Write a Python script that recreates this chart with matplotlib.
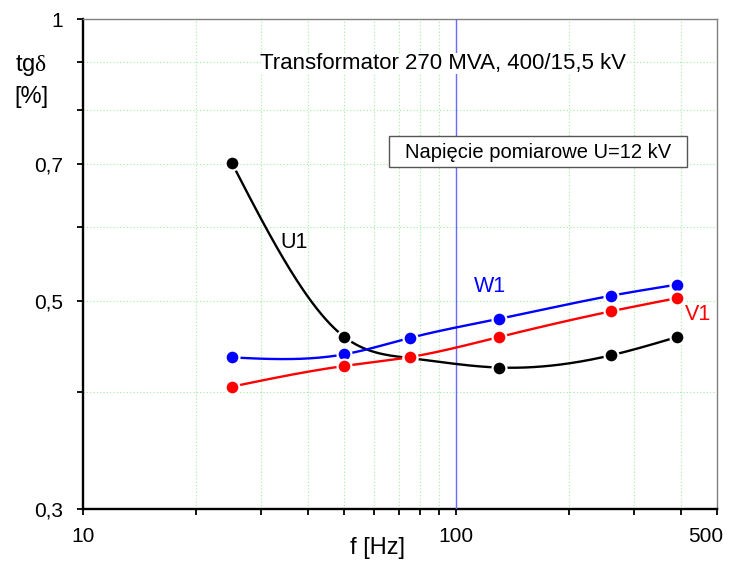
import numpy as np
import matplotlib
matplotlib.use("Agg")
import matplotlib.pyplot as plt
from matplotlib.ticker import FixedLocator, NullFormatter
from matplotlib.patches import Rectangle
from matplotlib.transforms import ScaledTranslation

plt.rcParams['font.family'] = ['Liberation Sans', 'DejaVu Sans']
plt.rcParams['mathtext.fontset'] = 'custom'
plt.rcParams['mathtext.rm'] = 'Liberation Serif'

# ---- data ----
freq = [25, 50, 75, 130, 260, 390]
u1 = [0.703, 0.4585, 0.435, 0.425, 0.438, 0.458]
w1 = [0.4357, 0.439, 0.457, 0.479, 0.507, 0.521]
v1 = [0.4055, 0.4266, 0.436, 0.458, 0.488, 0.504]

y_major = [0.3, 0.5, 0.7, 1.0]
y_major_labels = ['0,3', '0,5', '0,7', '1']
y_minor = [0.4, 0.6, 0.8, 0.9]
x_major = [10, 100, 500]
x_major_labels = ['10', '100', '500']
x_minor = [20, 30, 40, 50, 60, 70, 80, 90, 200, 300, 400]


def natural_spline(x, y, n=200):
    """Natural cubic spline through points (used only for drawing the smooth curve)."""
    x = np.asarray(x, float); y = np.asarray(y, float)
    k = len(x)
    h = np.diff(x)
    A = np.zeros((k, k)); b = np.zeros(k)
    A[0, 0] = A[-1, -1] = 1
    for i in range(1, k - 1):
        A[i, i - 1] = h[i - 1]
        A[i, i] = 2 * (h[i - 1] + h[i])
        A[i, i + 1] = h[i]
        b[i] = 3 * ((y[i + 1] - y[i]) / h[i] - (y[i] - y[i - 1]) / h[i - 1])
    c = np.linalg.solve(A, b)
    xs = np.linspace(x[0], x[-1], n)
    ys = np.empty_like(xs)
    for j, xv in enumerate(xs):
        i = min(np.searchsorted(x, xv, side='right') - 1, k - 2)
        dx = xv - x[i]
        bi = (y[i + 1] - y[i]) / h[i] - h[i] * (2 * c[i] + c[i + 1]) / 3
        di = (c[i + 1] - c[i]) / (3 * h[i])
        ys[j] = y[i] + bi * dx + c[i] * dx ** 2 + di * dx ** 3
    return xs, ys


W, H = 729, 568
fig = plt.figure(figsize=(W / 100, H / 100), dpi=100)
ax = fig.add_axes([83.3 / W, 1 - 509.3 / H, 633.7 / W, 490 / H])
ax.set_xscale('log')
ax.set_yscale('log')
ax.set_xlim(10, 500)
ax.set_ylim(0.3, 1.0)

ax.xaxis.set_major_locator(FixedLocator(x_major))
ax.xaxis.set_minor_locator(FixedLocator(x_minor))
ax.set_xticklabels(x_major_labels)
ax.xaxis.set_minor_formatter(NullFormatter())
ax.yaxis.set_major_locator(FixedLocator(y_major))
ax.yaxis.set_minor_locator(FixedLocator(y_minor))
ax.set_yticklabels(y_major_labels)
ax.yaxis.set_minor_formatter(NullFormatter())

ax.tick_params(which='both', direction='out', length=4.5, width=1.3, color='black',
               labelsize=15, top=False, right=False)
ax.tick_params(axis='x', pad=8)
ax.tick_params(axis='y', pad=10)

# shift the "500" label left so it stays inside the figure (as in the reference)
lbl500 = ax.get_xticklabels()[2]
lbl500.set_transform(lbl500.get_transform() + ScaledTranslation(-0.11, 0, fig.dpi_scale_trans))

ax.grid(True, which='both', color='#9cf09c', linestyle=(0, (1, 2)), linewidth=0.8)
ax.set_axisbelow(True)

for side in ['left', 'bottom']:
    ax.spines[side].set_linewidth(1.7)
    ax.spines[side].set_color('black')
for side in ['top', 'right']:
    ax.spines[side].set_linewidth(1.0)
    ax.spines[side].set_color('#808080')

series = [(u1, 'black'), (w1, '#0000ff'), (v1, '#ff0000')]
lx = np.log10(freq)
for vals, col in series:
    xs, ys = natural_spline(lx, np.log10(vals))
    ax.plot(10 ** xs, 10 ** ys, color=col, linewidth=1.7, zorder=5)
    ax.plot(freq, vals, 'o', color=col, markersize=10, markeredgecolor='white',
            markeredgewidth=1.6, zorder=6)

# title text inside the plot (white background hides the grid)
fig.text(443.5 / W, 1 - 63 / H, 'Transformator 270 MVA, 400/15,5 kV',
         ha='center', va='center', fontsize=16, zorder=3,
         bbox=dict(facecolor='white', edgecolor='none', pad=0))
ax.axvline(100, color='#6a6aff', linewidth=1.0, zorder=4)

# framed note
box = Rectangle((389 / W, 1 - 167 / H), 298 / W, 31 / H, transform=fig.transFigure,
                facecolor='white', edgecolor='#555555', linewidth=1.0, zorder=7)
fig.patches.append(box)
fig.text(538 / W, 1 - 152 / H, 'Napięcie pomiarowe U=12 kV', ha='center', va='center',
         fontsize=14.5, zorder=8)

fig.text(294 / W, 1 - 242 / H, 'U1', ha='center', va='center', fontsize=15.5, color='black')
fig.text(490 / W, 1 - 287 / H, 'W1', ha='center', va='center', fontsize=15.5, color='#0000ff')
fig.text(698 / W, 1 - 315 / H, 'V1', ha='center', va='center', fontsize=15.5, color='#ff0000')

fig.text(15 / W, 1 - 71 / H, r'tg$\mathrm{\delta}$', ha='left', va='baseline', fontsize=17)
fig.text(31 / W, 1 - 97 / H, '[%]', ha='center', va='center', fontsize=17)
fig.text(377 / W, 1 - 548 / H, 'f [Hz]', ha='center', va='center', fontsize=17)

fig.savefig('out.png', dpi=100, facecolor='white')
